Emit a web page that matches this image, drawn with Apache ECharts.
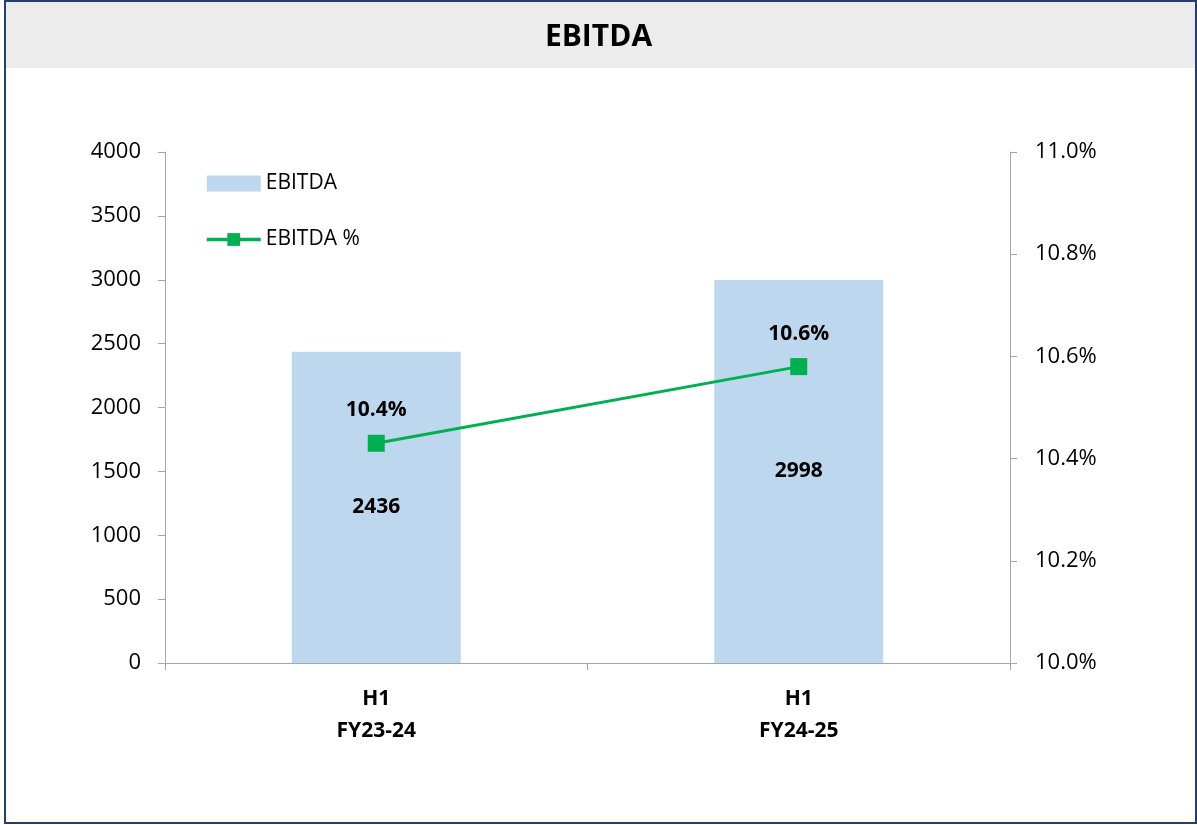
<!DOCTYPE html>
<html>
<head>
<meta charset="utf-8">
<script src="https://cdn.jsdelivr.net/npm/echarts@6/dist/echarts.min.js"></script>
<style>
  html, body { margin: 0; padding: 0; background: #fff; }
  #chart { width: 1197px; height: 825px; }
</style>
</head>
<body>
<div id="chart"></div>
<script>
const categories = ['H1\nFY23-24', 'H1\nFY24-25']
const ebitda = [2436, 2998]
const ebitdaPct = [10.43, 10.58]

const chart = echarts.init(document.getElementById('chart'))
const font = '"Open Sans", "Noto Sans", sans-serif'
const axisGray = '#a6a6a6'

const option = {
  textStyle: { fontFamily: font },
  graphic: [
    // title band
    { type: 'rect', shape: { x: 6, y: 2, width: 1190, height: 66 }, style: { fill: '#ececec' }, z: -1 },
    // outer border
    { type: 'rect', shape: { x: 5, y: 1, width: 1191, height: 822 }, style: { fill: 'none', stroke: '#243f6b', lineWidth: 2 }, z: 10 }
  ],
  title: {
    text: 'EBITDA',
    left: 'center',
    top: 17,
    textStyle: { fontFamily: font, fontSize: 30, fontWeight: 'bold', color: '#000' }
  },
  legend: {
    left: 200,
    top: 168,
    orient: 'vertical',
    itemWidth: 54,
    itemHeight: 16,
    itemGap: 35,
    textStyle: { fontFamily: font, fontSize: 21, color: '#000' },
    data: [
      { name: 'EBITDA', icon: 'rect' },
      { name: 'EBITDA %', lineStyle: { width: 3.5, color: '#00b050' } }
    ]
  },
  grid: { left: 165, right: 187, top: 152, bottom: 162 },
  xAxis: {
    type: 'category',
    data: categories,
    axisLine: { lineStyle: { color: axisGray } },
    axisTick: { show: true, length: 7, lineStyle: { color: axisGray } },
    axisLabel: {
      margin: 20,
      fontFamily: font, fontSize: 21, fontWeight: 'bold', color: '#000', lineHeight: 32
    }
  },
  yAxis: [
    {
      type: 'value',
      min: 0, max: 4000, interval: 500,
      axisLine: { show: true, lineStyle: { color: axisGray } },
      axisTick: { show: true, length: 7, lineStyle: { color: axisGray } },
      splitLine: { show: false },
      axisLabel: { margin: 24, fontFamily: font, fontSize: 22, color: '#000', formatter: v => String(v) }
    },
    {
      type: 'value',
      min: 10.0, max: 11.0, interval: 0.2,
      position: 'right',
      axisLine: { show: true, lineStyle: { color: axisGray } },
      axisTick: { show: true, length: 7, lineStyle: { color: axisGray } },
      splitLine: { show: false },
      axisLabel: {
        margin: 25, fontFamily: font, fontSize: 22, color: '#000',
        formatter: v => v.toFixed(1) + '%'
      }
    }
  ],
  series: [
    {
      name: 'EBITDA',
      type: 'bar',
      data: ebitda,
      barWidth: '40%',
      itemStyle: { color: '#bdd7ee' },
      label: {
        show: true,
        position: 'inside',
        fontFamily: font, fontSize: 21, fontWeight: 'bold', color: '#000'
      }
    },
    {
      name: 'EBITDA %',
      type: 'line',
      yAxisIndex: 1,
      data: ebitdaPct,
      symbol: 'rect',
      symbolSize: 17,
      lineStyle: { color: '#00b050', width: 3 },
      itemStyle: { color: '#00b050' },
      label: {
        show: true,
        position: 'top',
        distance: 14,
        fontFamily: font, fontSize: 21, fontWeight: 'bold', color: '#000',
        formatter: p => p.value.toFixed(1) + '%'
      },
      z: 5
    }
  ]
}

chart.setOption(option)
</script>
</body>
</html>
